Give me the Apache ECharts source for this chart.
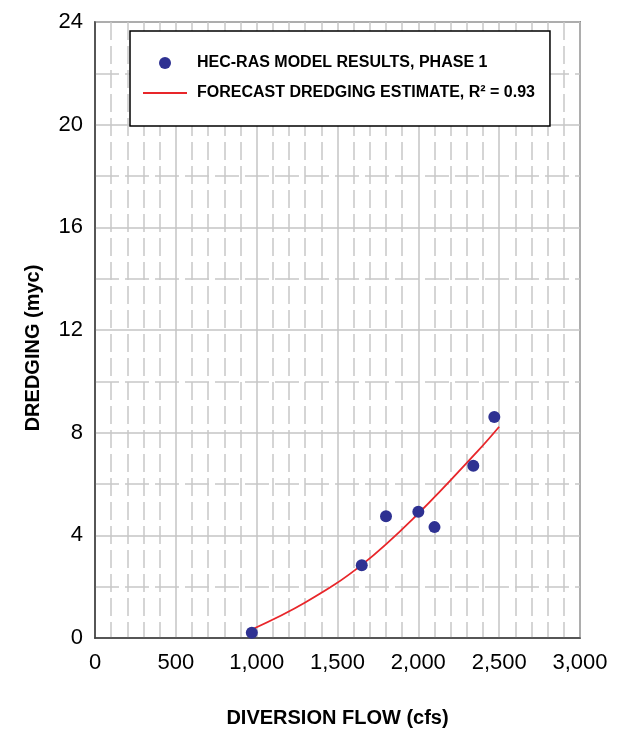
<!DOCTYPE html>
<html>
<head>
<meta charset="utf-8">
<script src="https://cdn.jsdelivr.net/npm/echarts@6/dist/echarts.min.js"></script>
<style>
  html, body { margin: 0; padding: 0; background: #fff; }
  #chart { width: 637px; height: 733px; }
</style>
</head>
<body>
<div id="chart"></div>
<script>
// HEC-RAS model results (phase 1)
const flowCfs = [970, 1650, 1800, 2000, 2100, 2340, 2470];
const dredgingMyc = [0.2, 2.83, 4.74, 4.92, 4.32, 6.71, 8.61];

// forecast curve
const fitFlow = [970, 1300, 1650, 2000, 2370, 2500];
const fitDredging = [0.33, 1.38, 2.85, 4.85, 7.3, 8.23];

const FONT = 'Liberation Sans, Arial, sans-serif';

const myChart = echarts.init(document.getElementById('chart'));
myChart.setOption({
  backgroundColor: '#fff',
  animation: false,
  textStyle: { fontFamily: FONT, color: '#000' },
  grid: {
    left: 95, right: 57, top: 22, bottom: 95,
    show: true,
    borderColor: '#3a3a3a',
    borderWidth: 1.5
  },
  legend: {
    orient: 'vertical',
    left: 130,
    top: 31,
    padding: [24, 15, 25, 12],
    itemWidth: 44,
    itemHeight: 12,
    itemGap: 14,
    backgroundColor: '#fff',
    borderColor: '#000',
    borderWidth: 1.5,
    textStyle: {
      fontFamily: FONT,
      fontWeight: 'bold',
      fontSize: 16,
      lineHeight: 16,
      color: '#000',
      padding: [0, 0, 0, 5]
    },
    data: [
      { name: 'HEC-RAS MODEL RESULTS, PHASE 1', icon: 'circle', itemStyle: { color: '#2e3192', opacity: 1 } },
      { name: 'FORECAST DREDGING ESTIMATE, R\u00b2 = 0.93', itemStyle: { opacity: 0 } }
    ]
  },
  xAxis: {
    type: 'value',
    min: 0,
    max: 3000,
    interval: 500,
    name: 'DIVERSION FLOW (cfs)',
    nameLocation: 'middle',
    nameGap: 70,
    nameTextStyle: { fontFamily: FONT, fontWeight: 'bold', fontSize: 20, color: '#000' },
    axisLine: { show: true, lineStyle: { color: '#3a3a3a', width: 1.5 } },
    axisTick: { show: false },
    axisLabel: { fontFamily: FONT, fontSize: 22, color: '#000', margin: 14 },
    splitLine: { show: true, lineStyle: { color: '#c4c4c4', width: 1.5 } },
    minorTick: { show: false, splitNumber: 5 },
    minorSplitLine: { show: true, lineStyle: { color: '#c8c8c8', width: 1.5, type: [18, 6] } }
  },
  yAxis: {
    type: 'value',
    min: 0,
    max: 24,
    interval: 4,
    name: 'DREDGING (myc)',
    nameLocation: 'middle',
    nameGap: 52,
    nameRotate: 90,
    nameTextStyle: {
      fontFamily: FONT, fontWeight: 'bold', fontSize: 20, color: '#000',
      padding: [0, 36, 0, 0]
    },
    axisLine: { show: true, lineStyle: { color: '#3a3a3a', width: 1.5 } },
    axisTick: { show: false },
    axisLabel: { fontFamily: FONT, fontSize: 22, color: '#000', margin: 12 },
    splitLine: { show: true, lineStyle: { color: '#c4c4c4', width: 1.5 } },
    minorTick: { show: false, splitNumber: 2 },
    minorSplitLine: { show: true, lineStyle: { color: '#c8c8c8', width: 1.5, type: [24, 6] } }
  },
  series: [
    {
      name: 'HEC-RAS MODEL RESULTS, PHASE 1',
      type: 'scatter',
      symbolSize: 12,
      itemStyle: { color: '#2e3192', opacity: 1 },
      z: 3,
      data: flowCfs.map((x, i) => [x, dredgingMyc[i]])
    },
    {
      name: 'FORECAST DREDGING ESTIMATE, R\u00b2 = 0.93',
      type: 'line',
      smooth: 0.4,
      symbol: 'none',
      lineStyle: { color: '#e8262a', width: 1.8 },
      itemStyle: { color: '#e8262a' },
      z: 2,
      data: fitFlow.map((x, i) => [x, fitDredging[i]])
    }
  ]
});
</script>
</body>
</html>
